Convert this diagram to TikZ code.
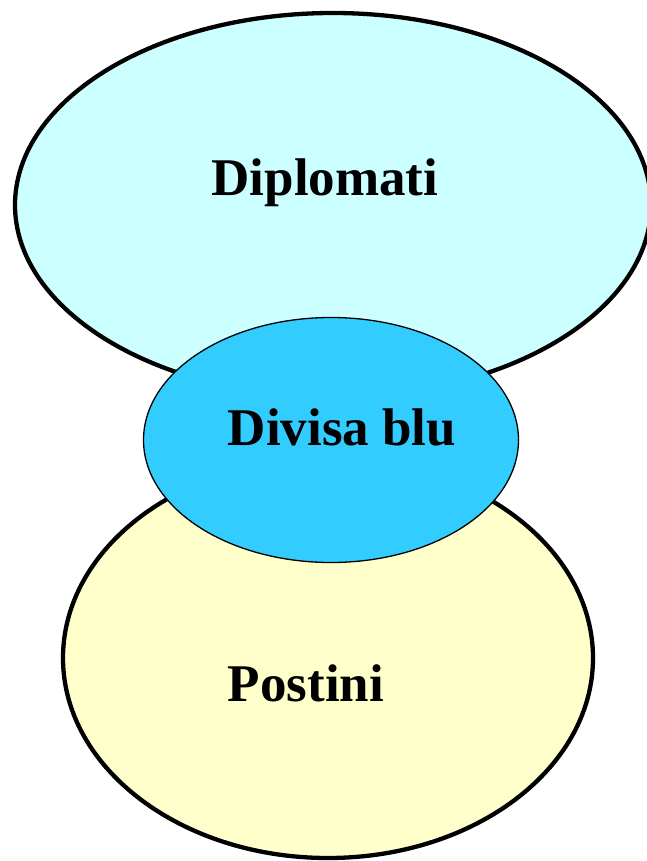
\documentclass[tikz,border=0pt]{standalone}
\usepackage{fontspec}
\setmainfont{Liberation Serif}
\usetikzlibrary{shapes.geometric}
\definecolor{topfill}{HTML}{CCFFFF}
\definecolor{midfill}{HTML}{33CCFF}
\definecolor{botfill}{HTML}{FFFFCC}
\begin{document}
\begin{tikzpicture}[x=1pt,y=1pt,
  blob/.style={ellipse, draw=black, inner sep=0pt, outer sep=0pt},
  lbl/.style={font=\fontsize{53}{60}\selectfont\bfseries, inner sep=0pt}]
\useasboundingbox (0,0) rectangle (647,-861);
\clip (0,0) rectangle (647,-861);
\node[blob, fill=topfill, line width=4.3pt, minimum width=636pt, minimum height=384pt] (top) at (333,-205) {};
\node[blob, fill=botfill, line width=4.3pt, minimum width=530pt, minimum height=400pt] (bot) at (328,-658) {};
\node[blob, fill=midfill, line width=1.3pt, minimum width=375pt, minimum height=245pt] (mid) at (331,-440) {};
\node[lbl] (t1) at (325,-183) {Diplomati};
\node[lbl] (t2) at (342,-427) {Divisa blu};
\node[lbl] (t3) at (306,-683) {Postini};
\end{tikzpicture}
\end{document}
